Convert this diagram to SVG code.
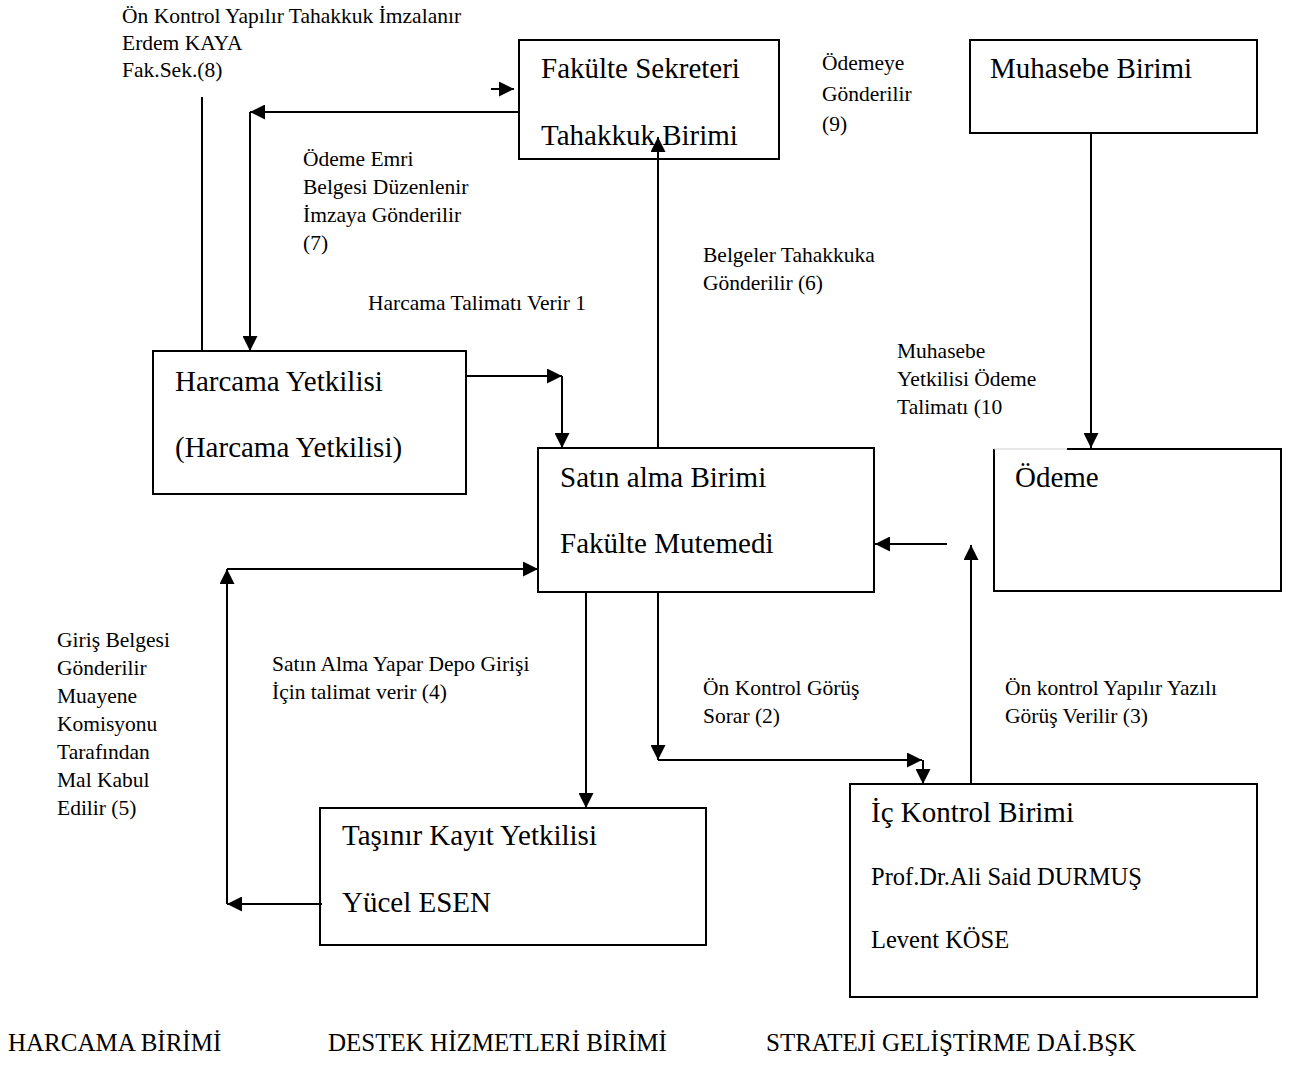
<svg xmlns="http://www.w3.org/2000/svg" width="1296" height="1066" viewBox="0 0 1296 1066">
<defs>
<marker id="ah" markerUnits="userSpaceOnUse" markerWidth="15" markerHeight="15" refX="15" refY="7.5" orient="auto">
<path d="M0,0 L15,7.5 L0,15 z" fill="#000"/>
</marker>
<style>
text{font-family:"Liberation Serif","Times New Roman",serif;fill:#000}
.h{font-size:29px}
.m{font-size:24.5px}
.l{font-size:21.5px}
.b{font-size:25px}
.box{fill:#fff;stroke:#000;stroke-width:2}
.c{fill:none;stroke:#000;stroke-width:2}
.a{fill:none;stroke:#000;stroke-width:2;marker-end:url(#ah)}
</style>
</defs>
<rect width="1296" height="1066" fill="#fff"/>

<g id="node-fakulte-sekreteri">
<rect class="box" x="519" y="40" width="260" height="119"/>
<text class="h" x="541" y="78">Fakülte Sekreteri</text>
<text class="h" x="541" y="145">Tahakkuk Birimi</text>
</g>
<g id="node-muhasebe">
<rect class="box" x="970" y="40" width="287" height="93"/>
<text class="h" x="990" y="78">Muhasebe Birimi</text>
</g>
<g id="node-harcama-yetkilisi">
<rect class="box" x="153" y="351" width="313" height="143"/>
<text class="h" x="175" y="391">Harcama Yetkilisi</text>
<text class="h" x="175" y="457">(Harcama Yetkilisi)</text>
</g>
<g id="node-satin-alma">
<rect class="box" x="538" y="448" width="336" height="144"/>
<text class="h" x="560" y="487">Satın alma Birimi</text>
<text class="h" x="560" y="553">Fakülte Mutemedi</text>
</g>
<g id="node-odeme">
<path d="M994,449 V591 H1281 V449 H1067" class="c"/>
<line x1="994" y1="449" x2="1067" y2="449" stroke="#d0d0d0" stroke-width="1"/>
<text class="h" x="1015" y="487">Ödeme</text>
</g>
<g id="node-tasinir">
<rect class="box" x="320" y="808" width="386" height="137"/>
<text class="h" x="342" y="845">Taşınır Kayıt Yetkilisi</text>
<text class="h" x="342" y="912">Yücel ESEN</text>
</g>
<g id="node-ic-kontrol">
<rect class="box" x="850" y="784" width="407" height="213"/>
<text class="h" x="871" y="822">İç Kontrol Birimi</text>
<text class="m" x="871" y="885">Prof.Dr.Ali Said DURMUŞ</text>
<text class="m" x="871" y="948">Levent KÖSE</text>
</g>

<g id="connectors">
<path class="c" d="M202,97 V351"/>
<path class="a" d="M491,89 H514"/>
<path class="a" d="M519,112 H250"/>
<path class="a" d="M250,112 V351"/>
<path class="a" d="M466,376 H562"/>
<path class="a" d="M562,376 V448"/>
<path class="a" d="M658,448 V137"/>
<path class="a" d="M1091,133 V448"/>
<path class="a" d="M947,544 H875"/>
<path class="a" d="M971,784 V545"/>
<path class="a" d="M322,904 H227"/>
<path class="a" d="M227,904 V569"/>
<path class="a" d="M227,569 H538"/>
<path class="a" d="M586,592 V808"/>
<path class="a" d="M658,592 V760"/>
<path class="a" d="M658,760 H922"/>
<path class="a" d="M923,760 V784"/>
</g>

<g id="labels">
<text class="l" x="122" y="23">Ön Kontrol Yapılır Tahakkuk İmzalanır</text>
<text class="l" x="122" y="50">Erdem KAYA</text>
<text class="l" x="122" y="77">Fak.Sek.(8)</text>
<text class="l" x="822" y="70">Ödemeye</text>
<text class="l" x="822" y="101">Gönderilir</text>
<text class="l" x="822" y="131">(9)</text>
<text class="l" x="303" y="166">Ödeme Emri</text>
<text class="l" x="303" y="194">Belgesi Düzenlenir</text>
<text class="l" x="303" y="222">İmzaya Gönderilir</text>
<text class="l" x="303" y="250">(7)</text>
<text class="l" x="703" y="262">Belgeler Tahakkuka</text>
<text class="l" x="703" y="290">Gönderilir (6)</text>
<text class="l" x="368" y="310">Harcama Talimatı Verir 1</text>
<text class="l" x="897" y="358">Muhasebe</text>
<text class="l" x="897" y="386">Yetkilisi Ödeme</text>
<text class="l" x="897" y="414">Talimatı (10</text>
<text class="l" x="57" y="647">Giriş Belgesi</text>
<text class="l" x="57" y="675">Gönderilir</text>
<text class="l" x="57" y="703">Muayene</text>
<text class="l" x="57" y="731">Komisyonu</text>
<text class="l" x="57" y="759">Tarafından</text>
<text class="l" x="57" y="787">Mal Kabul</text>
<text class="l" x="57" y="815">Edilir (5)</text>
<text class="l" x="272" y="671">Satın Alma Yapar Depo Girişi</text>
<text class="l" x="272" y="699">İçin talimat verir (4)</text>
<text class="l" x="703" y="695">Ön Kontrol Görüş</text>
<text class="l" x="703" y="723">Sorar (2)</text>
<text class="l" x="1005" y="695">Ön kontrol Yapılır Yazılı</text>
<text class="l" x="1005" y="723">Görüş Verilir (3)</text>
<text class="b" x="8" y="1051">HARCAMA BİRİMİ</text>
<text class="b" x="328" y="1051">DESTEK HİZMETLERİ BİRİMİ</text>
<text class="b" x="766" y="1051">STRATEJİ GELİŞTİRME DAİ.BŞK</text>
</g>
</svg>
